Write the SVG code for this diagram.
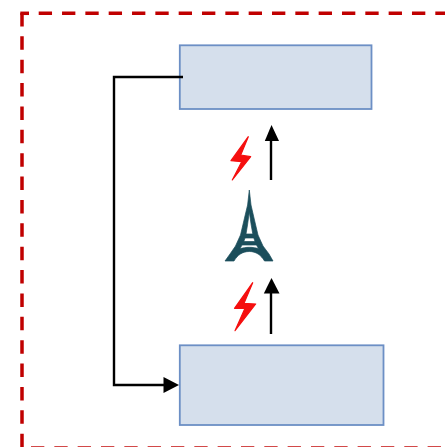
<svg xmlns="http://www.w3.org/2000/svg" width="445" height="447" viewBox="0 0 445 447">
<style>
.frame{fill:none;stroke:#c00000;stroke-width:3.500}
.box{fill:#d5dfec;stroke:#6c8fc5;stroke-width:1.800}
.conn{fill:none;stroke:#000;stroke-width:2.400}
.head{fill:#000}
.bolt{fill:#f50f0f;stroke:#f50f0f;stroke-width:1.200;stroke-linejoin:round}
.tower{fill:#1b4e5b;fill-rule:evenodd;stroke:#1b4e5b;stroke-width:0.700}
</style>
<g id="frame">
<path class="frame" d="M20.300 13.300H29"/>
<path class="frame" d="M38.700 13.300H445" stroke-dasharray="13.330 10"/>
<path class="frame" d="M22 13V447" stroke-dasharray="13.500 9.870"/>
<path class="frame" d="M31 448H445" stroke-dasharray="13.330 10" opacity="0.950"/>
</g>
<g id="box-top"><rect class="box" x="179.800" y="45.300" width="191.700" height="63.700"/></g>
<g id="box-bottom"><rect class="box" x="179.800" y="345.300" width="203.700" height="79.700"/></g>
<g id="connectors">
<path class="conn" d="M183 77H114V385H165"/>
<polygon class="head" points="179,385 163.500,377 163.500,393"/>
<path class="conn" d="M271 180V140"/>
<polygon class="head" points="271.500,125 264.800,141 279,141"/>
<path class="conn" d="M271 334V291"/>
<polygon class="head" points="271.500,278 263.800,293.500 279.500,293.500"/>
</g>
<g id="bolt-top"><polygon class="bolt" points="248.300,136.700 231,160.700 241.700,161.700 232.300,180 250.700,156.700 240.700,155"/></g>
<g id="tower"><path class="tower" d="M249.300 190 L251 205 L254 218 L258 235 L263 246 L269 254 L273 261 H264.500 C261 255 256 251.500 249.300 251.500 C242.500 251.500 237.500 255 234 261 H225 L230 254 L235.500 246 L240.500 235 L244.500 218 L247.600 205 Z M249.300 212 L247.500 225 L246 234 H252.800 L251.200 225 Z M245 238 L243.800 241.500 H255 L253.800 238 Z M242 245 L240 248.800 C243 247.800 246 247.300 249.300 247.300 C252.500 247.300 256 247.800 258.500 248.800 L256.500 245 Z"/></g>
<g id="bolt-bottom"><polygon class="bolt" points="252.700,282.700 234.500,308.300 245,308.300 235,330.700 255.700,304 244,303.300"/></g>
</svg>
